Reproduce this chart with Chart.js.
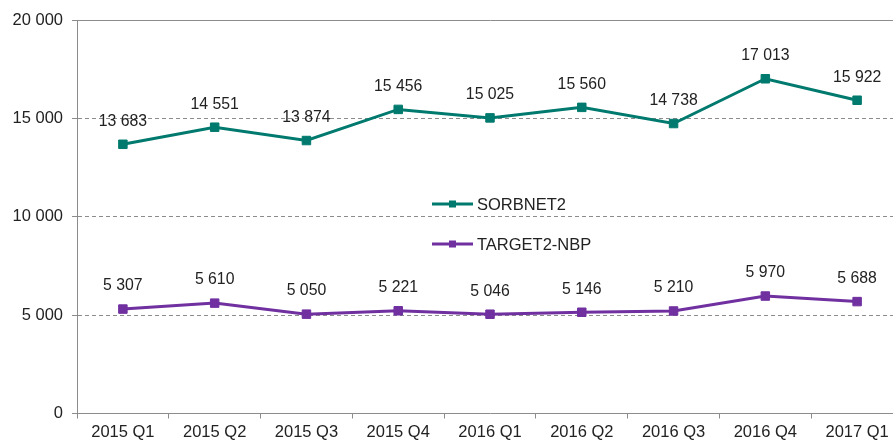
<!DOCTYPE html>
<html>
<head>
<meta charset="utf-8">
<script src="https://cdn.jsdelivr.net/npm/chart.js@4/dist/chart.umd.min.js"></script>
<style>
  html, body { margin: 0; padding: 0; background: #fff; overflow: hidden; }
  #wrap { width: 910px; height: 441px; }
</style>
</head>
<body>
<div id="wrap"><canvas id="chart" width="910" height="441"></canvas></div>
<script>
const quarters = ["2015 Q1", "2015 Q2", "2015 Q3", "2015 Q4", "2016 Q1", "2016 Q2", "2016 Q3", "2016 Q4", "2017 Q1"];
const sorbnet = [13683, 14551, 13874, 15456, 15025, 15560, 14738, 17013, 15922];
const target = [5307, 5610, 5050, 5221, 5046, 5146, 5210, 5970, 5688];
const yTicks = [0, 5000, 10000, 15000, 20000];

const TEAL = "#007a6e";
const PURPLE = "#7030a0";
const GRID = "#8c8c8c";
const TEXT = "#222222";
const FONT = "'Liberation Sans', Arial, sans-serif";

function fmt(v) {
  return String(v).replace(/\B(?=(\d{3})+(?!\d))/g, " ");
}

// value labels above each point
const valueLabels = {
  id: "valueLabels",
  afterDatasetsDraw(chart) {
    const ctx = chart.ctx;
    ctx.save();
    ctx.font = `15.8px ${FONT}`;
    ctx.fillStyle = TEXT;
    ctx.textAlign = "center";
    ctx.textBaseline = "middle";
    chart.data.datasets.forEach((ds, i) => {
      chart.getDatasetMeta(i).data.forEach((pt, j) => {
        ctx.fillText(fmt(ds.data[j]), pt.x, pt.y - 23);
      });
    });
    ctx.restore();
  },
};

// legend placed inside the plot, like the original
const innerLegend = {
  id: "innerLegend",
  afterDraw(chart) {
    const ctx = chart.ctx;
    const x0 = 432;
    const rows = [204, 244];
    ctx.save();
    ctx.font = `16.5px ${FONT}`;
    ctx.textBaseline = "middle";
    chart.data.datasets.forEach((ds, i) => {
      const y = rows[i];
      ctx.strokeStyle = ds.borderColor;
      ctx.lineWidth = 3;
      ctx.beginPath();
      ctx.moveTo(x0, y);
      ctx.lineTo(x0 + 41, y);
      ctx.stroke();
      ctx.fillStyle = ds.borderColor;
      ctx.fillRect(x0 + 17, y - 3.5, 7, 7);
      ctx.fillStyle = TEXT;
      ctx.fillText(ds.label, x0 + 45, y + 1);
    });
    ctx.restore();
  },
};

const lineStyle = (color) => ({
  borderColor: color,
  backgroundColor: color,
  borderWidth: 3,
  pointStyle: "rect",
  pointRadius: 6,
  pointBorderWidth: 1,
  pointBackgroundColor: color,
  pointBorderColor: color,
  tension: 0,
  fill: false,
});

new Chart(document.getElementById("chart"), {
  type: "line",
  data: {
    labels: quarters,
    datasets: [
      { label: "SORBNET2", data: sorbnet, ...lineStyle(TEAL) },
      { label: "TARGET2-NBP", data: target, ...lineStyle(PURPLE) },
    ],
  },
  options: {
    responsive: false,
    animation: false,
    layout: { padding: { top: 20, right: 4, left: 0, bottom: 0 } },
    plugins: { legend: { display: false }, tooltip: { enabled: false } },
    scales: {
      x: {
        offset: true,
        grid: {
          offset: true,
          drawOnChartArea: false,
          drawTicks: true,
          tickLength: 5,
          color: GRID,
        },
        border: { display: true, color: GRID, width: 1 },
        ticks: {
          color: TEXT,
          font: { family: FONT, size: 16.5 },
          padding: 4,
          maxRotation: 0,
          autoSkip: false,
        },
        afterFit(scale) {
          scale.height = 27.5;
        },
      },
      y: {
        min: 0,
        max: 20000,
        afterBuildTicks(scale) {
          scale.ticks = yTicks.map((v) => ({ value: v }));
        },
        grid: {
          color: (c) => (c.tick && c.tick.value === 0 ? "rgba(0,0,0,0)" : GRID),
          tickColor: GRID,
          tickLength: 5,
          tickBorderDash: [],
          lineWidth: 1,
        },
        border: {
          display: true,
          color: GRID,
          dash: (c) => (c.tick && c.tick.value === 20000 ? [] : [4, 3]),
        },
        ticks: {
          color: TEXT,
          font: { family: FONT, size: 16.5 },
          padding: 9,
          callback: (v) => fmt(v),
        },
        afterFit(scale) {
          scale.width = 77;
        },
      },
    },
  },
  plugins: [valueLabels, innerLegend],
});
</script>
</body>
</html>
